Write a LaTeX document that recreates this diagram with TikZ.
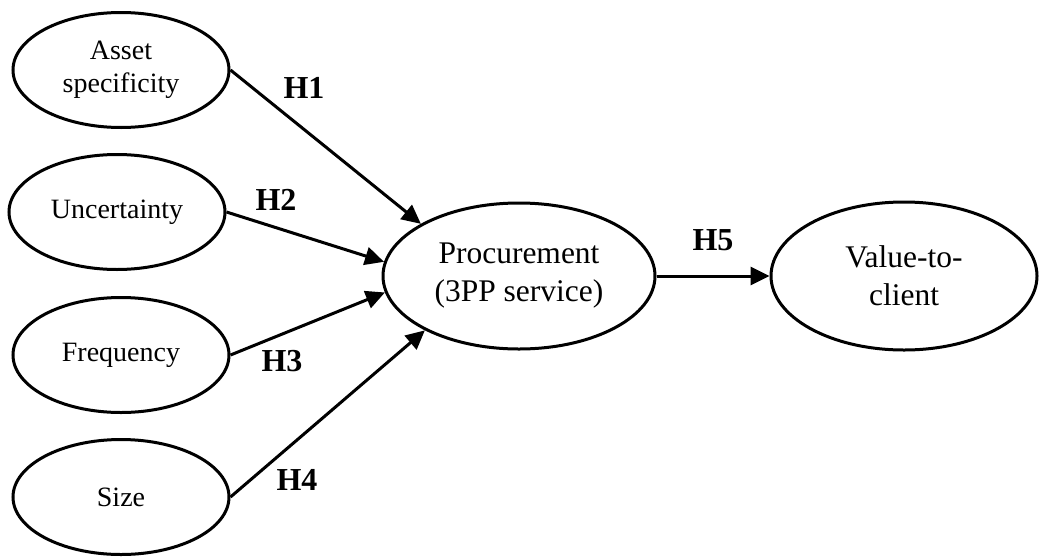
\documentclass[tikz,border=0pt]{standalone}
\usepackage{fontspec}
\setmainfont{Liberation Serif}
\usetikzlibrary{shapes.geometric,arrows.meta}
\tikzset{
  small/.style={ellipse,draw,line width=3pt,minimum width=216pt,minimum height=115pt,inner sep=0pt,
    align=center,font=\fontsize{28}{33}\selectfont},
  big/.style={ellipse,draw,line width=3pt,inner sep=0pt,
    align=center,font=\fontsize{31.5}{38}\selectfont},
  link/.style={line width=3pt,-{Triangle[length=19pt,width=18pt]}},
  hlabel/.style={font=\fontsize{32}{32}\selectfont\bfseries,inner sep=0pt}
}
\begin{document}
\begin{tikzpicture}[x=1pt,y=-1pt]
\useasboundingbox (0,0) rectangle (1040,557);
\node[small] (asset) at (121,70) {Asset\\specificity};
\node[small] (unc) at (117,212) {Uncertainty};
\node[small] (freq) at (121,355) {Frequency};
\node[small] (size) at (121,497) {Size};
\node[big,minimum width=272pt,minimum height=146pt] (proc) at (519,276) {Procurement\\(3PP service)};
\node[big,minimum width=266pt,minimum height=148pt] (val) at (904,276) {Value-to-\\client};
\draw[link] (asset.east) -- (proc.152);
\draw[link] (unc.east) -- (proc.174);
\draw[link] (freq.east) -- (proc.187);
\draw[link] (size.east) -- (proc.210);
\draw[link] (proc.east) -- (val.west);
\node[hlabel] (h1) at (304,88) {H1};
\node[hlabel] (h2) at (276,200) {H2};
\node[hlabel] (h3) at (282,361) {H3};
\node[hlabel] (h4) at (297,480) {H4};
\node[hlabel] (h5) at (713,240) {H5};
\end{tikzpicture}
\end{document}
